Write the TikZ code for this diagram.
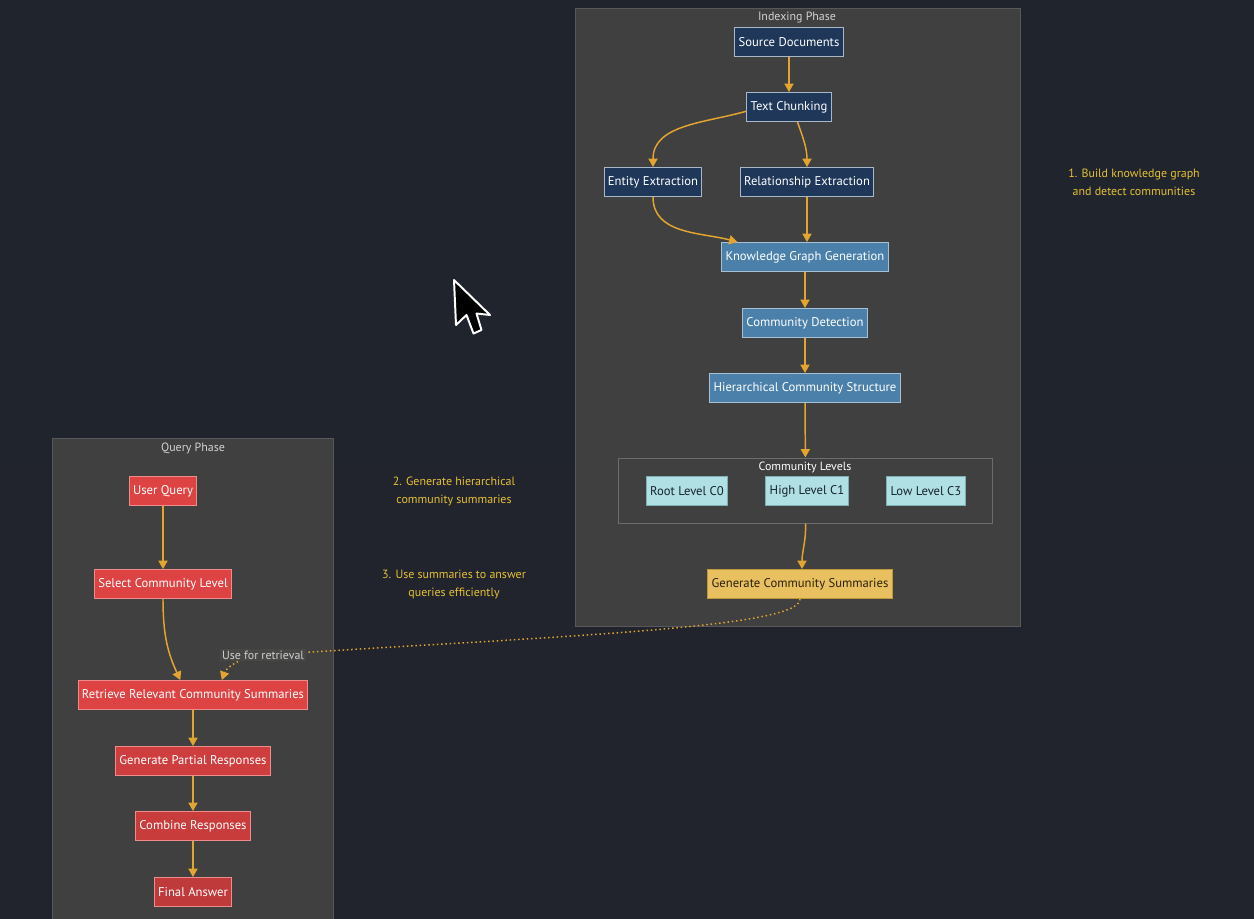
\documentclass[tikz,border=0pt]{standalone}
\usepackage{fontspec}
\setmainfont{PT Sans}
\usetikzlibrary{arrows.meta}

\definecolor{bgtop}{HTML}{20242C}
\definecolor{bgmid}{HTML}{2B303B}
\definecolor{bgbot}{HTML}{21242D}
\definecolor{panelfill}{HTML}{3F403F}
\definecolor{panelline}{HTML}{56585B}
\definecolor{titlegray}{HTML}{D2D2D2}
\definecolor{navyfill}{HTML}{1F3759}
\definecolor{navyline}{HTML}{A9B8C8}
\definecolor{steelfill}{HTML}{4A80A9}
\definecolor{steelline}{HTML}{A8C0D4}
\definecolor{powderfill}{HTML}{B0DFE4}
\definecolor{powderline}{HTML}{7FAEB4}
\definecolor{powdertext}{HTML}{16252B}
\definecolor{goldfill}{HTML}{E9C05F}
\definecolor{goldline}{HTML}{BF983C}
\definecolor{goldtext}{HTML}{2B2210}
\definecolor{redfill}{HTML}{DE4343}
\definecolor{redline}{HTML}{EE8C8C}
\definecolor{flowcol}{HTML}{E3A530}
\definecolor{notecol}{HTML}{E6C133}
\definecolor{levelline}{HTML}{6A6C6F}
\definecolor{labelfill}{HTML}{474846}
\definecolor{labeltext}{HTML}{CFCFCF}

\tikzset{
  phase/.style={draw=panelline, fill=panelfill, line width=0.7pt},
  phasetitle/.style={text=titlegray, font=\fontsize{8.5}{10}\selectfont},
  box/.style={draw, line width=0.7pt, minimum height=20.6pt, inner xsep=2.7pt, font=\fontsize{9}{11}\selectfont},
  darkbox/.style={box, fill=navyfill, draw=navyline, text=white},
  bluebox/.style={box, fill=steelfill, draw=steelline, text=white},
  levelnode/.style={box, fill=powderfill, draw=powderline, text=powdertext},
  sumbox/.style={box, fill=goldfill, draw=goldline, text=goldtext},
  querybox/.style={box, fill=redfill, draw=redline, text=white},
  flow/.style={draw=flowcol, line width=1.05pt, -{Triangle[length=6pt,width=6.5pt]}},
  retr/.style={flow, dotted},
  note/.style={text=notecol, align=center, font=\fontsize{8.5}{12.8}\selectfont},
  elabel/.style={fill=labelfill, text=labeltext, inner sep=1.5pt, font=\fontsize{8.5}{10}\selectfont}
}

\begin{document}
\begin{tikzpicture}[x=0.025cm, y=-0.025cm]
  \useasboundingbox (0,0) rectangle (1254,919);
  \shade[top color=bgtop, middle color=bgmid, bottom color=bgbot] (0,0) rectangle (1254,919);

  % Indexing Phase
  \node[phase, minimum width=11.1cm, minimum height=15.425cm] (ip) at (798,317.5) {};
  \node[phasetitle] (ipt) at (797,18) {Indexing Phase};
  \node[darkbox] (sd) at (789,42) {Source Documents};
  \node[darkbox] (tc) at (789,107) {Text Chunking};
  \node[darkbox] (ee) at (653,182) {Entity Extraction};
  \node[darkbox] (re) at (807,182) {Relationship Extraction};
  \node[bluebox] (kg) at (805,257) {Knowledge Graph Generation};
  \node[bluebox] (cd) at (805,323) {Community Detection};
  \node[bluebox] (hc) at (805,388) {Hierarchical Community Structure};

  % Community Levels
  \node[draw=levelline, line width=0.7pt, minimum width=9.325cm, minimum height=1.625cm] (lv) at (805.5,490.5) {};
  \node[phasetitle, text=white] (lvt) at (805,467) {Community Levels};
  \node[levelnode] (c0) at (687,491) {Root Level C0};
  \node[levelnode] (c1) at (807,491) {High Level C1};
  \node[levelnode] (c3) at (926,491) {Low Level C3};
  \node[sumbox] (gs) at (800,584) {Generate Community Summaries};

  % Query Phase
  \node[phase, minimum width=7cm, minimum height=12.3cm] (qp) at (193,685) {};
  \node[phasetitle] (qpt) at (193,448) {Query Phase};
  \node[querybox] (uq) at (163,491) {User Query};
  \node[querybox] (sl) at (163,584) {Select Community Level};
  \node[querybox] (rs) at (193,695) {Retrieve Relevant Community Summaries};
  \node[querybox, fill=redfill!93!black] (pr) at (193,761) {Generate Partial Responses};
  \node[querybox, fill=redfill!90!black] (cr) at (193,826) {Combine Responses};
  \node[querybox, fill=redfill!86!black] (fa) at (193,892) {Final Answer};

  % notes
  \node[note] (n1) at (1134,182) {1. Build knowledge graph\\and detect communities};
  \node[note] (n2) at (454,491) {2. Generate hierarchical\\community summaries};
  \node[note] (n3) at (454,584) {3. Use summaries to answer\\queries efficiently};

  % connectors
  \draw[flow] (sd) -- (tc);
  \draw[flow] ([yshift=-3pt]tc.west) to[out=196,in=90] (ee.north);
  \draw[flow] ([xshift=6pt]tc.south) to[out=-70,in=90] (re.north);
  \draw[flow] (ee.south) to[out=-90,in=165] ([xshift=-48pt]kg.north);
  \draw[flow] (re) -- (re |- kg.north);
  \draw[flow] (kg) -- (cd);
  \draw[flow] (cd) -- (hc);
  \draw[flow] (hc) -- (lv);
  \draw[flow] (lv.south) to[out=-88,in=90] (gs.north -| 802,0);
  \draw[flow] (uq) -- (sl);
  \draw[flow] (sl.south) to[out=-90,in=115] ([xshift=-9pt]rs.north);
  \draw[flow] (rs) -- (pr);
  \draw[flow] (pr) -- (cr);
  \draw[flow] (cr) -- (fa);
  \draw[retr] (gs.south) .. controls (801,628) and (560,636) .. (263,655)
    node[elabel] (ul) {Use for retrieval}
    .. controls (240,657) and (226,668) .. ([xshift=20.5pt]rs.north);

  % cursor
  \filldraw[fill=black, draw=white, line width=1.4pt, line join=round] (454,280) -- (456,325) -- (466.5,315) -- (473.5,333.5) -- (481.5,330) -- (476.5,313.5) -- (490,315) -- cycle;
\end{tikzpicture}
\end{document}
